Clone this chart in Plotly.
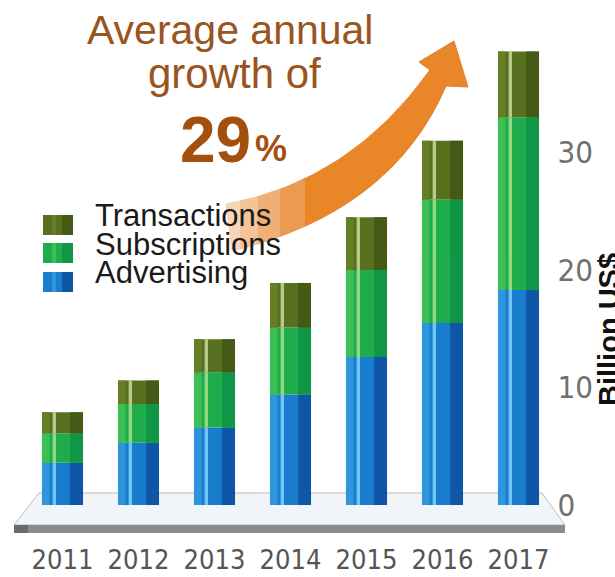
import plotly.graph_objects as go

# ---------------- data ----------------
years = ["2011", "2012", "2013", "2014", "2015", "2016", "2017"]
advertising = [3.6, 5.3, 6.6, 9.4, 12.6, 15.5, 18.3]
subscriptions = [2.5, 3.3, 4.7, 5.7, 7.4, 10.5, 14.7]
transactions = [1.8, 2.0, 2.8, 3.8, 4.5, 5.0, 5.6]
y_ticks = [0, 10, 20, 30]
series_names = ["Transactions", "Subscriptions", "Advertising"]

# ---------------- geometry helpers (page pixels -> paper) ----------------
W, H = 615, 577


def fx(x):
    return x / W


def fy(y):
    return 1 - y / H


def P(x, y):
    return f"{fx(x):.4f},{fy(y):.4f}"


BASE_PX = 505
TOP_PX = 40
PX_PER_UNIT = 11.75
Y_MAX = (BASE_PX - TOP_PX) / PX_PER_UNIT
X_LEFT, X_RIGHT = 24.5, 556.5

NARROW = "Liberation Sans Narrow, DejaVu Sans Condensed, Arial Narrow, sans-serif"
SANS = "Liberation Sans, Arial, Helvetica, sans-serif"

colors = {
    "Advertising": dict(main="#1a7ccc", left="#2f95dd", dark="#0f57a6", hi="#7fd4ff"),
    "Subscriptions": dict(main="#1fad4b", left="#3cbf57", dark="#119546", hi="#a6e08e"),
    "Transactions": dict(main="#56701f", left="#667f27", dark="#455a17", hi="#c9d79a"),
}

base_adv = [0] * len(years)
base_sub = advertising
base_tr = [a + s for a, s in zip(advertising, subscriptions)]

stack = [
    ("Advertising", advertising, base_adv),
    ("Subscriptions", subscriptions, base_sub),
    ("Transactions", transactions, base_tr),
]

BW = 0.54
fig = go.Figure()
for name, vals, base in stack:
    c = colors[name]
    common = dict(x=years, y=vals, base=base, showlegend=False, hoverinfo="skip",
                  marker_line_width=0)
    fig.add_bar(name=name, width=BW, offset=-BW / 2, marker_color=c["main"], **common)
    fig.add_bar(width=0.10, offset=-BW / 2, marker_color=c["left"], **common)
    fig.add_bar(width=0.17, offset=BW / 2 - 0.17, marker_color=c["dark"], **common)
    fig.add_bar(width=0.045, offset=-BW / 2 + 0.14, marker_color=c["hi"], opacity=0.85, **common)

# ---------------- decorative shapes ----------------
shapes = []
# floor
shapes.append(dict(type="path", xref="paper", yref="paper", layer="below",
                   path=f"M {P(39,493)} L {P(542,493)} L {P(565,525)} L {P(14,525)} Z",
                   fillcolor="#f1f4f8", line=dict(color="#b9bcc0", width=1)))
shapes.append(dict(type="rect", xref="paper", yref="paper", layer="below",
                   x0=fx(14), x1=fx(565), y0=fy(533), y1=fy(525),
                   fillcolor="#8c8c8c", line=dict(width=0)))
shapes.append(dict(type="rect", xref="paper", yref="paper", layer="below",
                   x0=fx(14), x1=fx(28), y0=fy(533), y1=fy(525),
                   fillcolor="#6a6a6a", line=dict(width=0)))
# growth arrow
arrow = (f"M {P(226,204)} Q {P(350,182)} {P(430,70)} L {P(419,62)} L {P(454,41)} "
         f"L {P(468,87)} L {P(446,86)} Q {P(392,212)} {P(232,251)} Z")
shapes.append(dict(type="path", xref="paper", yref="paper", layer="below",
                   path=arrow, fillcolor="#e8862a", line=dict(color="#e2802a", width=1)))
# fade on arrow tail (stacked translucent white bands)
for x0, x1, a in [(220, 305, 0.18), (220, 280, 0.22), (220, 258, 0.25), (220, 240, 0.3)]:
    shapes.append(dict(type="rect", xref="paper", yref="paper", layer="below",
                       x0=fx(x0), x1=fx(x1), y0=fy(262), y1=fy(180),
                       fillcolor=f"rgba(255,255,255,{a})", line=dict(width=0)))

# legend swatches
sw_rows = {"Transactions": 215, "Subscriptions": 243, "Advertising": 272}
for name in series_names:
    c = colors[name]
    y0 = sw_rows[name]
    shapes.append(dict(type="rect", xref="paper", yref="paper",
                       x0=fx(43), x1=fx(73), y0=fy(y0 + 20), y1=fy(y0),
                       fillcolor=c["main"], line=dict(width=0)))
    shapes.append(dict(type="rect", xref="paper", yref="paper",
                       x0=fx(62), x1=fx(73), y0=fy(y0 + 20), y1=fy(y0),
                       fillcolor=c["dark"], line=dict(width=0)))
    shapes.append(dict(type="rect", xref="paper", yref="paper",
                       x0=fx(52), x1=fx(56), y0=fy(y0 + 20), y1=fy(y0),
                       fillcolor=c["left"], line=dict(width=0)))

# ---------------- annotations ----------------
ann = []
title_col = "#9a5420"
ann.append(dict(text="Average annual", x=fx(230), y=fy(30), xref="paper", yref="paper",
                showarrow=False, xanchor="center", yanchor="middle",
                font=dict(family=SANS, size=41, color=title_col)))
ann.append(dict(text="growth of", x=fx(234), y=fy(73), xref="paper", yref="paper",
                showarrow=False, xanchor="center", yanchor="middle",
                font=dict(family=SANS, size=42, color=title_col)))
ann.append(dict(text="<b>29</b>", x=fx(253), y=fy(140), xref="paper", yref="paper",
                showarrow=False, xanchor="right", yanchor="middle",
                font=dict(family=SANS, size=64, color="#a3500f")))
ann.append(dict(text="<b>%</b>", x=fx(253), y=fy(148), xref="paper", yref="paper",
                showarrow=False, xanchor="left", yanchor="middle",
                font=dict(family=SANS, size=36, color="#a3500f")))
leg_y = {"Transactions": 216, "Subscriptions": 244, "Advertising": 272}
for name in series_names:
    ann.append(dict(text=name, x=fx(93), y=fy(leg_y[name]), xref="paper", yref="paper",
                    showarrow=False, xanchor="left", yanchor="middle",
                    font=dict(family=SANS, size=31, color="#1a1a1a")))
ann.append(dict(text="<b>Billion US$</b>", x=fx(609), y=fy(330), xref="paper", yref="paper",
                showarrow=False, textangle=-90, xanchor="center", yanchor="middle",
                font=dict(family=SANS, size=29, color="#111111")))

fig.update_layout(
    width=W, height=H,
    margin=dict(l=0, r=0, t=0, b=0, autoexpand=False),
    paper_bgcolor="white", plot_bgcolor="rgba(0,0,0,0)",
    barmode="overlay",
    shapes=shapes, annotations=ann,
    xaxis=dict(type="category", range=[-0.5, 6.5], domain=[fx(X_LEFT), fx(X_RIGHT)],
               showgrid=False, showline=False, zeroline=False, ticks="",
               tickangle=0, automargin=False, ticklabelstandoff=36,
               tickfont=dict(family=NARROW, size=27, color="#555555"), fixedrange=True),
    yaxis=dict(range=[0, Y_MAX], domain=[fy(BASE_PX), fy(TOP_PX)], side="right",
               tickvals=y_ticks, showgrid=False, showline=False, zeroline=False, ticks="",
               automargin=False, ticklabelstandoff=0,
               tickfont=dict(family=NARROW, size=31, color="#707070"), fixedrange=True),
    showlegend=False,
)

fig.write_html("out.html", config={"displayModeBar": False},
               post_script="document.body.style.margin='0px';")
